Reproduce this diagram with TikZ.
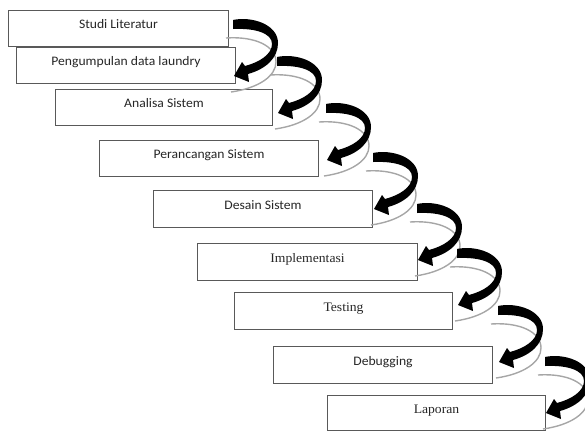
\documentclass[tikz,border=0pt]{standalone}
\usepackage{fontspec}
\newfontfamily\carl[FakeStretch=1.05]{Carlito}
\newfontfamily\tnr[FakeStretch=1.05]{Liberation Serif}
\newcommand\crvarrow[1]{%
  \begin{scope}[shift={(#1)}]
    \draw[shadowline] (-7,14) .. controls (22,12) and (43,22) .. (43,38)
                      .. controls (43,52) and (26,64) .. (-2,68);
    \fill[arrowfill] (0,-4) .. controls (18,-8) and (45,0) .. (45,19)
      .. controls (45,34) and (33,45) .. (15,50) -- (16,58) -- (1,52)
      -- (9,38) -- (12,42) .. controls (27,38) and (39,30) .. (39,20)
      .. controls (39,9) and (22,4) .. (0,5) -- cycle;
  \end{scope}}
\begin{document}
\begin{tikzpicture}[x=1pt,y=-1pt,
  stepbox/.style={draw=black!65, line width=1pt, fill=white, inner sep=0pt, anchor=north west},
  sanslbl/.style={font=\carl\fontsize{13}{15}\selectfont, anchor=base, inner sep=0pt, text=black!85},
  seriflbl/.style={font=\tnr\fontsize{13}{15}\selectfont, anchor=base, inner sep=0pt, text=black!85},
  shadowline/.style={draw=black!35, line width=1.4pt},
  arrowfill/.style={fill=black}]
\useasboundingbox (0,0) rectangle (585,432);
% boxes
\node[stepbox, minimum width=220pt, minimum height=36pt] (b1) at (8,10) {};
\node[stepbox, minimum width=219pt, minimum height=36pt] (b2) at (16,47) {};
\node[stepbox, minimum width=217pt, minimum height=36pt] (b3) at (55,89) {};
\node[stepbox, minimum width=219pt, minimum height=36pt] (b4) at (99,140) {};
\node[stepbox, minimum width=219pt, minimum height=37pt] (b5) at (153,190) {};
\node[stepbox, minimum width=220pt, minimum height=37pt] (b6) at (197,243) {};
\node[stepbox, minimum width=218pt, minimum height=37pt] (b7) at (234,292) {};
\node[stepbox, minimum width=219pt, minimum height=37pt] (b8) at (273,346) {};
\node[stepbox, minimum width=218pt, minimum height=35pt] (b9) at (327,395) {};
% labels
\node[sanslbl] (t1) at (b1.center) {Studi Literatur};
\node[sanslbl] (t2) at (b2.center) {Pengumpulan data laundry};
\node[sanslbl] (t3) at (b3.center) {Analisa Sistem};
\node[sanslbl] (t4) at (b4.center) {Perancangan Sistem};
\node[sanslbl] (t5) at (b5.center) {Desain Sistem};
\node[seriflbl] (t6) at (b6.center) {Implementasi};
\node[seriflbl] (t7) at (b7.center) {Testing};
\node[sanslbl] (t8) at (b8.center) {Debugging};
\node[seriflbl] (t9) at (b9.center) {Laporan};
% curved arrows
\coordinate (a1) at (233,24);
\coordinate (a2) at (277,61);
\coordinate (a3) at (326,108);
\coordinate (a4) at (373,157);
\coordinate (a5) at (417,208);
\coordinate (a6) at (457,253);
\coordinate (a7) at (498,310);
\coordinate (a8) at (545,361);
\crvarrow{a1}
\crvarrow{a2}
\crvarrow{a3}
\crvarrow{a4}
\crvarrow{a5}
\crvarrow{a6}
\crvarrow{a7}
\crvarrow{a8}
\end{tikzpicture}
\end{document}
